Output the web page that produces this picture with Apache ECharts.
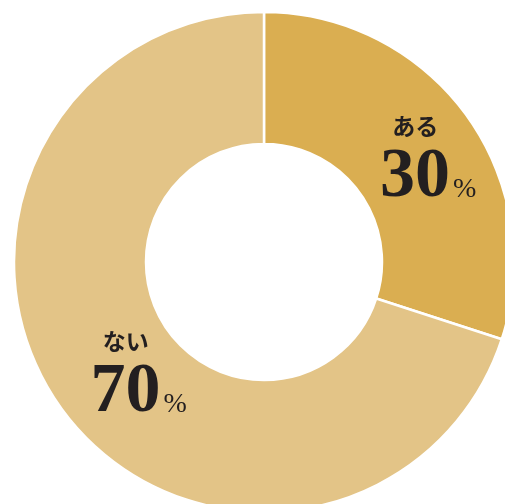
<!DOCTYPE html>
<html>
<head>
<meta charset="utf-8">
<script src="https://cdn.jsdelivr.net/npm/echarts@6/dist/echarts.min.js"></script>
<style>
  html, body { margin: 0; padding: 0; background: #fff; }
  #chart { width: 505px; height: 504px; }
</style>
</head>
<body>
<div id="chart"></div>
<script>
// Answer categories and their shares (%)
const categories = ['ある', 'ない'];
const shares = [30, 70];
const sliceColors = ['#DAAE51', '#E3C487'];
// nudges for each label block
const labelShiftX = [13, 26];
const labelShiftY = [10, 5];

const chart = echarts.init(document.getElementById('chart'), null, { renderer: 'canvas' });

chart.setOption({
  animation: false,
  series: [{
    type: 'pie',
    center: [264, 262],
    radius: [118, 250],
    startAngle: 90,
    clockwise: true,
    silent: true,
    itemStyle: { borderColor: '#ffffff', borderWidth: 2.5 },
    label: {
      show: true,
      position: 'inside',
      formatter: p => '{t|' + p.name + '}\n{n|' + p.value + '}{p|%}',
      rich: {
        t: {
          fontFamily: '"Noto Sans CJK JP", sans-serif',
          fontWeight: 'bold',
          fontSize: 23,
          color: '#231F20',
          lineHeight: 30,
          padding: [0, 26, 0, 0]
        },
        n: {
          fontFamily: '"Liberation Serif", "DejaVu Serif", serif',
          fontWeight: 'bold',
          fontSize: 70,
          color: '#231F20',
          lineHeight: 72,
          verticalAlign: 'bottom'
        },
        p: {
          fontFamily: '"Liberation Serif", "DejaVu Serif", serif',
          fontSize: 28,
          color: '#231F20',
          padding: [0, 0, 9, 3],
          verticalAlign: 'bottom'
        }
      }
    },
    labelLine: { show: false },
    labelLayout: p => ({ dx: labelShiftX[p.dataIndex], dy: labelShiftY[p.dataIndex] }),
    data: categories.map((name, i) => ({
      name: name,
      value: shares[i],
      itemStyle: { color: sliceColors[i] }
    }))
  }]
});
</script>
</body>
</html>
